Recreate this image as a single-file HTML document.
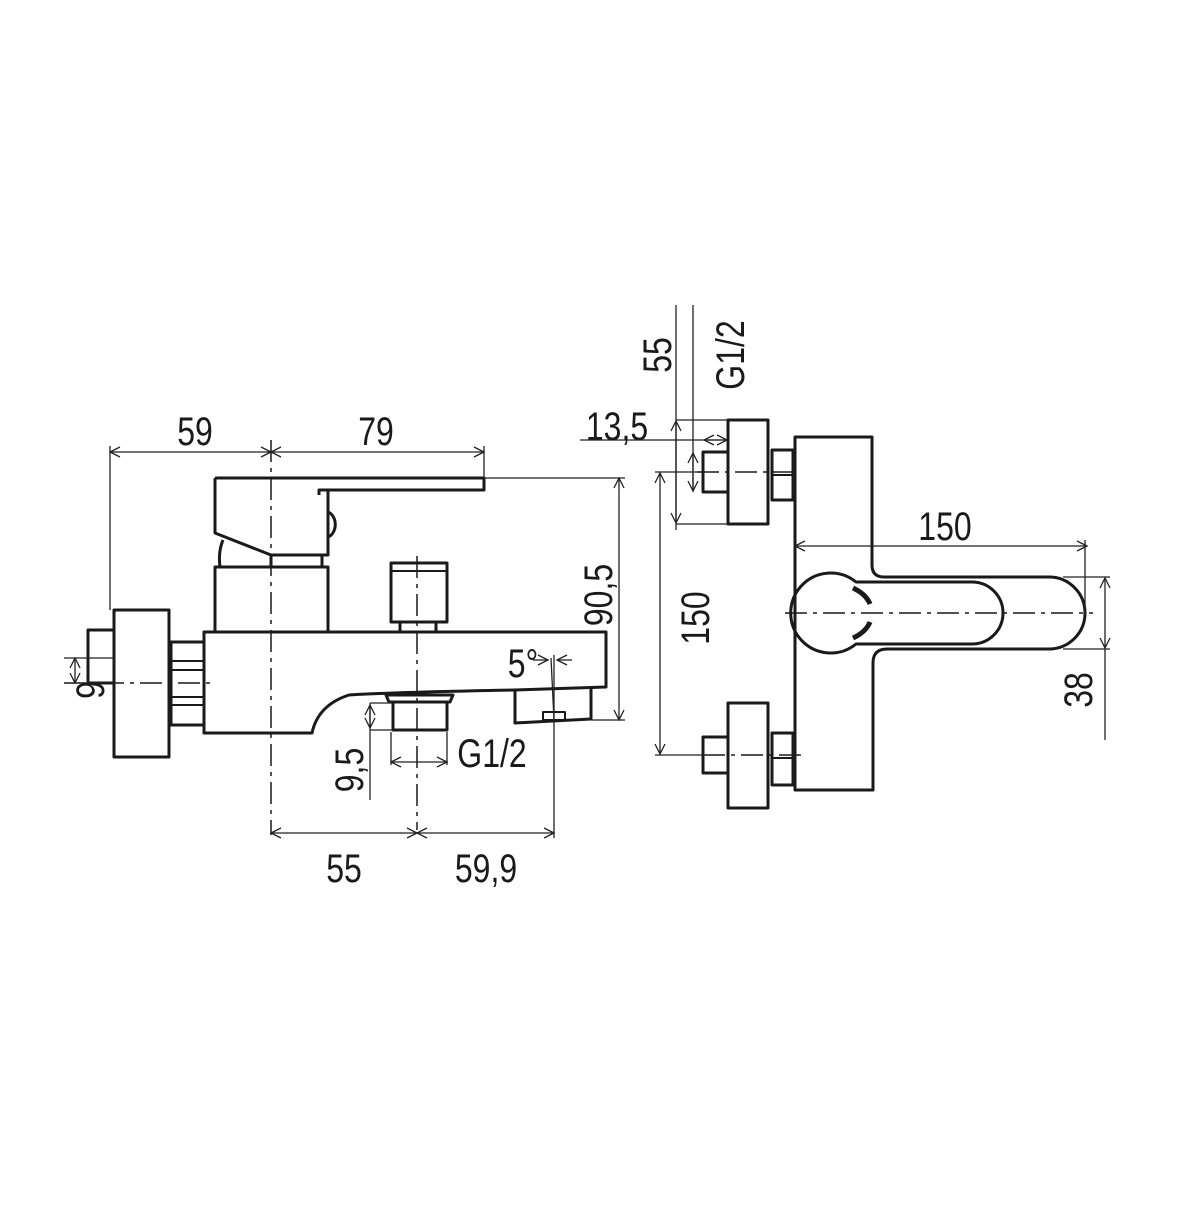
<!DOCTYPE html>
<html><head><meta charset="utf-8"><style>
html,body{margin:0;padding:0;background:#fff}
text{font-family:"Liberation Sans",sans-serif;font-size:40px;fill:#1a1a1a}
</style></head><body>
<svg width="1200" height="1200" viewBox="0 0 1200 1200" xmlns="http://www.w3.org/2000/svg">
<defs>
<marker id="a" viewBox="0 0 12 12" refX="11" refY="6" markerWidth="12" markerHeight="12" orient="auto-start-reverse" markerUnits="userSpaceOnUse">
<path d="M1,1 L11,6 L1,11" fill="none" stroke="#222" stroke-width="1.3"/></marker>
</defs>
<g fill="none" stroke="#1a1a1a" stroke-width="3" stroke-linejoin="round">
<path d="M215,478 H484 V490 H319 V495"/>
<path d="M328,490 V555 H271 L215,533 V478"/>
<path d="M328,512 A10,13 0 0 1 328,537"/>
<path d="M223,540 Q218,552 220,567"/>
<path d="M271,555 V567 M322,555 V567"/>
<rect x="215" y="567" width="113" height="65"/>
<path d="M204,632 H606 V687 L515,690 Q400,692 349,695 Q318,705 312,733 H204 Z"/>
<path d="M515,690 V723 L591,719 V687"/>
<rect x="543" y="712" width="22" height="8" stroke-width="2"/>
<rect x="171" y="642" width="33" height="83"/>
<path d="M171,661 H204 M171,670 H204 M171,697 H204 M171,705 H204" stroke-width="2"/>
<rect x="114" y="610" width="55" height="147"/>
<path d="M114,630 H88 V683 H114"/>
<rect x="391" y="563" width="56" height="59"/>
<path d="M391,571 H447" stroke-width="2"/>
<path d="M400,622 V632 M436,622 V632"/>
<path d="M386,695 H453 L450,702 H389 Z"/>
<rect x="393" y="702" width="54" height="28"/>
<rect x="728" y="420" width="40" height="104"/>
<rect x="703" y="452" width="25" height="40"/>
<rect x="772" y="450" width="21" height="50"/>
<path d="M772,475 H793" stroke-width="2"/>
<rect x="728" y="703" width="40" height="105"/>
<rect x="703" y="737" width="25" height="36"/>
<rect x="772" y="733" width="21" height="52"/>
<path d="M772,758 H793" stroke-width="2"/>
<path d="M795,437 H872 V565 Q872,577 884,577 H1049 A36,36 0 0 1 1049,649 H887 Q873,649 873,663 V790 H795 Z"/>
<path d="M856,582 A40,40 0 1 0 856,644 H972 A31,31 0 0 0 972,582 Z"/>
<path d="M853,588 Q866,594 870,604 M853,638 Q866,632 870,622" stroke-width="5"/>
</g>
<g stroke="#1a1a1a" stroke-width="1.5" stroke-dasharray="22,6,4,6" fill="none">
<path d="M271,440 V835"/>
<path d="M417,556 V830"/>
<path d="M64,683 H210"/>
<path d="M785,613 H1093"/>
<path d="M697,472 H800"/>
<path d="M703,755 H806"/>
</g>
<g stroke="#222" stroke-width="1.3" fill="none">
<path d="M110,452 H271" marker-start="url(#a)" marker-end="url(#a)"/>
<path d="M271,452 H484" marker-start="url(#a)" marker-end="url(#a)"/>
<path d="M110,446 V610 M484,446 V478"/>
<path d="M484,478 H625"/>
<path d="M619,478 V720" marker-start="url(#a)" marker-end="url(#a)"/>
<path d="M591,720 H625"/>
<path d="M64,658 H114"/>
<path d="M75,658 V683" marker-start="url(#a)" marker-end="url(#a)"/>
<path d="M370,703 H393 M370,730 H393"/>
<path d="M370,703 V800"/>
<path d="M370,705 V728" marker-start="url(#a)" marker-end="url(#a)"/>
<path d="M391,762 H447" marker-start="url(#a)" marker-end="url(#a)"/>
<path d="M391,732 V765 M447,732 V765"/>
<path d="M271,833 H417" marker-start="url(#a)" marker-end="url(#a)"/>
<path d="M417,833 H554" marker-start="url(#a)" marker-end="url(#a)"/>
<path d="M554,655 V838"/>
<path d="M551,658 L554,720"/>
<path d="M533,660 L548,660" marker-end="url(#a)"/>
<path d="M572,660 L557,660" marker-end="url(#a)"/>
<path d="M676,305 V530 M693,305 V492"/>
<path d="M676,420 H728 M676,524 H728"/>
<path d="M676,421 V523" marker-start="url(#a)" marker-end="url(#a)"/>
<path d="M693,453 V491" marker-start="url(#a)" marker-end="url(#a)"/>
<path d="M580,440 H728"/>
<path d="M704,440 H727" marker-start="url(#a)" marker-end="url(#a)"/>
<path d="M655,472 H702 M655,755 H703"/>
<path d="M660,473 V754" marker-start="url(#a)" marker-end="url(#a)"/>
<path d="M795,546 H1087" marker-start="url(#a)" marker-end="url(#a)"/>
<path d="M1085,540 V613"/>
<path d="M1063,577 H1110 M1063,649 H1110"/>
<path d="M1105,578 V648" marker-start="url(#a)" marker-end="url(#a)"/>
<path d="M1105,649 V740"/>
</g>
<g text-anchor="middle">
<text transform="translate(195,445) scale(.8,1)">59</text>
<text transform="translate(376,445) scale(.8,1)">79</text>
<text transform="translate(344,882) scale(.8,1)">55</text>
<text transform="translate(486,882) scale(.8,1)">59,9</text>
<text transform="translate(492,767) scale(.8,1)">G1/2</text>
<text transform="translate(523,677) scale(.8,1)">5°</text>
<text transform="translate(617,440) scale(.8,1)">13,5</text>
<text transform="translate(945,540) scale(.8,1)">150</text>
<text transform="translate(612,595) rotate(-90) scale(.8,1)">90,5</text>
<text transform="translate(104,690) rotate(-90) scale(.8,1)">9</text>
<text transform="translate(363,770) rotate(-90) scale(.8,1)">9,5</text>
<text transform="translate(671,355) rotate(-90) scale(.8,1)">55</text>
<text transform="translate(744,355) rotate(-90) scale(.8,1)">G1/2</text>
<text transform="translate(709,618) rotate(-90) scale(.8,1)">150</text>
<text transform="translate(1092,690) rotate(-90) scale(.8,1)">38</text>
</g>
</svg>
</body></html>
